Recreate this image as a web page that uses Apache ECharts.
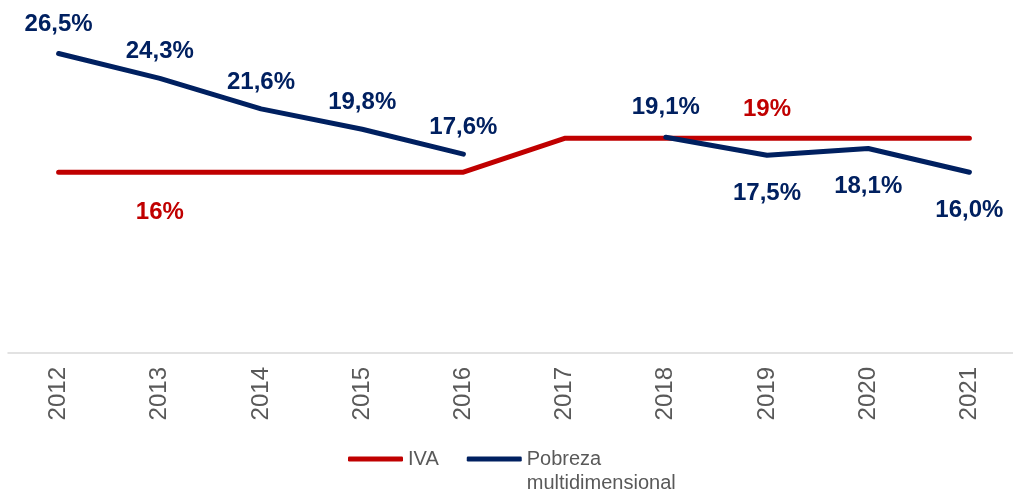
<!DOCTYPE html>
<html>
<head>
<meta charset="utf-8">
<script src="https://cdn.jsdelivr.net/npm/echarts@6/dist/echarts.min.js"></script>
<style>
  html, body { margin: 0; padding: 0; background: #fff; }
  #chart { width: 1013px; height: 489px; }
</style>
</head>
<body>
<div id="chart"></div>
<script>
const years = ['2012', '2013', '2014', '2015', '2016', '2017', '2018', '2019', '2020', '2021']
const iva = [16, 16, 16, 16, 16, 19, 19, 19, 19, 19]
// 2017 sin dato de pobreza
const pobreza = [26.5, 24.3, 21.6, 19.8, 17.6, null, 19.1, 17.5, 18.1, 16.0]

const red = '#C00000'
const navy = '#002060'
const font = 'Liberation Sans, Arial, sans-serif'

// etiquetas de IVA solo en dos puntos
const ivaLabelPos = {1: 'bottom', 7: 'top'}
const pobrezaLabelPos = ['top', 'top', 'top', 'top', 'top', null, 'top', 'bottom', 'bottom', 'bottom']

const labelBase = {
  show: true,
  fontFamily: font,
  fontSize: 24,
  fontWeight: 'bold'
}

const ivaData = iva.map((v, i) => {
  let pos = ivaLabelPos[i]
  if (!pos) return {value: v, label: {show: false}}
  return {value: v, label: {...labelBase, color: red, position: pos, distance: pos === 'top' ? 17 : 28,
    formatter: p => p.value + '%'}}
})

const pobrezaData = pobreza.map((v, i) => {
  let pos = pobrezaLabelPos[i]
  if (v === null) return {value: null}
  return {value: v, label: {...labelBase, color: navy, position: pos, distance: pos === 'top' ? (i === 0 ? 17 : (i === 6 ? 18 : 15)) : 26,
    formatter: p => p.value.toFixed(1).replace('.', ',') + '%'}}
})

const chart = echarts.init(document.getElementById('chart'))
chart.setOption({
  animation: false,
  grid: {left: 8, right: -7, top: 14, bottom: 136, containLabel: false, outerBoundsMode: 'none'},
  xAxis: {
    type: 'category',
    data: years,
    boundaryGap: true,
    axisLine: {lineStyle: {color: '#D9D9D9', width: 1.5}},
    axisTick: {show: false},
    axisLabel: {rotate: 90, margin: 14, color: '#595959', fontSize: 24, fontFamily: font}
  },
  yAxis: {
    type: 'value',
    min: 0,
    max: 30,
    show: false,
    splitLine: {show: false}
  },
  legend: {
    left: 343,
    top: 418,
    itemWidth: 55,
    itemHeight: 5,
    itemGap: 28,
    icon: 'roundRect',
    textStyle: {color: '#595959', fontSize: 20, fontFamily: font, lineHeight: 24},
    // linea vacia arriba para que el icono quede junto a la primera linea
    formatter: name => name.indexOf(' ') > 0 ? ' \n' + name.replace(' ', '\n') : name,
    data: ['IVA', 'Pobreza multidimensional']
  },
  series: [
    {
      name: 'IVA',
      type: 'line',
      data: ivaData,
      symbol: 'circle',
      symbolSize: 0,
      showSymbol: true,
      color: red,
      lineStyle: {width: 5, color: red, cap: 'round', join: 'round'},
      z: 2
    },
    {
      name: 'Pobreza multidimensional',
      type: 'line',
      data: pobrezaData,
      symbol: 'circle',
      symbolSize: 0,
      showSymbol: true,
      color: navy,
      connectNulls: false,
      lineStyle: {width: 5, color: navy, cap: 'round', join: 'round'},
      z: 3
    }
  ]
})
</script>
</body>
</html>
